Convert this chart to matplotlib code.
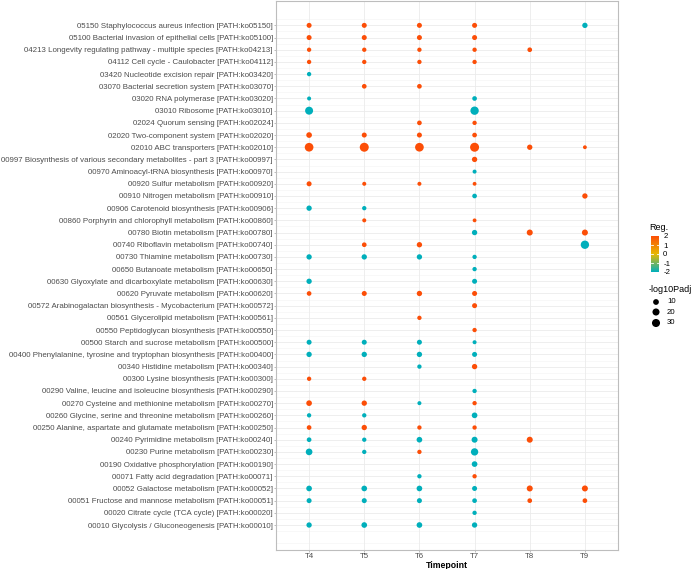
import numpy as np
import pandas as pd
import matplotlib
matplotlib.use('Agg')
import matplotlib.pyplot as plt
from matplotlib.colors import LinearSegmentedColormap, Normalize
from matplotlib.cm import ScalarMappable

plt.rcParams['font.family'] = ['Liberation Sans', 'DejaVu Sans']
plt.rcParams['axes.unicode_minus'] = False

# pathways, top to bottom
pathways = [
    "05150 Staphylococcus aureus infection [PATH:ko05150]",
    "05100 Bacterial invasion of epithelial cells [PATH:ko05100]",
    "04213 Longevity regulating pathway - multiple species [PATH:ko04213]",
    "04112 Cell cycle - Caulobacter [PATH:ko04112]",
    "03420 Nucleotide excision repair [PATH:ko03420]",
    "03070 Bacterial secretion system [PATH:ko03070]",
    "03020 RNA polymerase [PATH:ko03020]",
    "03010 Ribosome [PATH:ko03010]",
    "02024 Quorum sensing [PATH:ko02024]",
    "02020 Two-component system [PATH:ko02020]",
    "02010 ABC transporters [PATH:ko02010]",
    "00997 Biosynthesis of various secondary metabolites - part 3 [PATH:ko00997]",
    "00970 Aminoacyl-tRNA biosynthesis [PATH:ko00970]",
    "00920 Sulfur metabolism [PATH:ko00920]",
    "00910 Nitrogen metabolism [PATH:ko00910]",
    "00906 Carotenoid biosynthesis [PATH:ko00906]",
    "00860 Porphyrin and chlorophyll metabolism [PATH:ko00860]",
    "00780 Biotin metabolism [PATH:ko00780]",
    "00740 Riboflavin metabolism [PATH:ko00740]",
    "00730 Thiamine metabolism [PATH:ko00730]",
    "00650 Butanoate metabolism [PATH:ko00650]",
    "00630 Glyoxylate and dicarboxylate metabolism [PATH:ko00630]",
    "00620 Pyruvate metabolism [PATH:ko00620]",
    "00572 Arabinogalactan biosynthesis - Mycobacterium [PATH:ko00572]",
    "00561 Glycerolipid metabolism [PATH:ko00561]",
    "00550 Peptidoglycan biosynthesis [PATH:ko00550]",
    "00500 Starch and sucrose metabolism [PATH:ko00500]",
    "00400 Phenylalanine, tyrosine and tryptophan biosynthesis [PATH:ko00400]",
    "00340 Histidine metabolism [PATH:ko00340]",
    "00300 Lysine biosynthesis [PATH:ko00300]",
    "00290 Valine, leucine and isoleucine biosynthesis [PATH:ko00290]",
    "00270 Cysteine and methionine metabolism [PATH:ko00270]",
    "00260 Glycine, serine and threonine metabolism [PATH:ko00260]",
    "00250 Alanine, aspartate and glutamate metabolism [PATH:ko00250]",
    "00240 Pyrimidine metabolism [PATH:ko00240]",
    "00230 Purine metabolism [PATH:ko00230]",
    "00190 Oxidative phosphorylation [PATH:ko00190]",
    "00071 Fatty acid degradation [PATH:ko00071]",
    "00052 Galactose metabolism [PATH:ko00052]",
    "00051 Fructose and mannose metabolism [PATH:ko00051]",
    "00020 Citrate cycle (TCA cycle) [PATH:ko00020]",
    "00010 Glycolysis / Gluconeogenesis [PATH:ko00010]",
]
timepoints = ["T4", "T5", "T6", "T7", "T8", "T9"]

# -log10 padj, one row per pathway, columns T4..T9 (0 = not shown)
logp = [
    [5.8, 5.8, 5.8, 5.8, 0, 7.5],
    [5.8, 5.8, 5.8, 5.8, 0, 0],
    [3, 3, 3, 3, 4.3, 0],
    [3, 3, 3, 3, 0, 0],
    [3, 0, 0, 0, 0, 0],
    [0, 4.3, 4.3, 0, 0, 0],
    [2, 0, 0, 4.3, 0, 0],
    [29, 0, 0, 33, 0, 0],
    [0, 0, 4.3, 3, 0, 0],
    [9.4, 5.8, 5.8, 4.3, 0, 0],
    [37, 41, 37, 41, 7.5, 1.5],
    [0, 0, 0, 7.5, 0, 0],
    [0, 0, 0, 2, 0, 0],
    [5.8, 2, 2, 1.5, 0, 0],
    [0, 0, 0, 4.3, 0, 7.5],
    [7.5, 3, 0, 0, 0, 0],
    [0, 2, 0, 1.5, 0, 0],
    [0, 0, 0, 7.5, 11.6, 11.6],
    [0, 4.3, 7.5, 0, 0, 33],
    [7.5, 7.5, 7.5, 3, 0, 0],
    [0, 0, 0, 3, 0, 0],
    [7.5, 0, 0, 5.8, 0, 0],
    [4.3, 5.8, 7.5, 5.8, 0, 0],
    [0, 0, 0, 5.8, 0, 0],
    [0, 0, 3, 0, 0, 0],
    [0, 0, 0, 3, 0, 0],
    [5.8, 5.8, 5.8, 2, 0, 0],
    [7.5, 7.5, 7.5, 5.8, 0, 0],
    [0, 0, 3, 7.5, 0, 0],
    [3, 3, 0, 0, 0, 0],
    [0, 0, 0, 3, 0, 0],
    [9.4, 7.5, 2, 3, 0, 0],
    [3, 3, 0, 9.4, 0, 0],
    [4.3, 7.5, 3, 3, 0, 0],
    [4.3, 3, 9.4, 11.6, 11.6, 0],
    [16.5, 3, 3, 22.4, 0, 0],
    [0, 0, 0, 9.4, 0, 0],
    [0, 0, 3, 3, 0, 0],
    [9.4, 9.4, 9.4, 5.8, 11.6, 11.6],
    [5.8, 5.8, 5.8, 4.3, 4.3, 4.3],
    [0, 0, 0, 3, 0, 0],
    [7.5, 9.4, 9.4, 7.5, 0, 0],
]

# regulation, same layout (2 = up, -2 = down)
reg = [
    [2, 2, 2, 2, 0, -2],
    [2, 2, 2, 2, 0, 0],
    [2, 2, 2, 2, 2, 0],
    [2, 2, 2, 2, 0, 0],
    [-2, 0, 0, 0, 0, 0],
    [0, 2, 2, 0, 0, 0],
    [-2, 0, 0, -2, 0, 0],
    [-2, 0, 0, -2, 0, 0],
    [0, 0, 2, 2, 0, 0],
    [2, 2, 2, 2, 0, 0],
    [2, 2, 2, 2, 2, 2],
    [0, 0, 0, 2, 0, 0],
    [0, 0, 0, -2, 0, 0],
    [2, 2, 2, 2, 0, 0],
    [0, 0, 0, -2, 0, 2],
    [-2, -2, 0, 0, 0, 0],
    [0, 2, 0, 2, 0, 0],
    [0, 0, 0, -2, 2, 2],
    [0, 2, 2, 0, 0, -2],
    [-2, -2, -2, -2, 0, 0],
    [0, 0, 0, -2, 0, 0],
    [-2, 0, 0, -2, 0, 0],
    [2, 2, 2, 2, 0, 0],
    [0, 0, 0, 2, 0, 0],
    [0, 0, 2, 0, 0, 0],
    [0, 0, 0, 2, 0, 0],
    [-2, -2, -2, -2, 0, 0],
    [-2, -2, -2, -2, 0, 0],
    [0, 0, -2, 2, 0, 0],
    [2, 2, 0, 0, 0, 0],
    [0, 0, 0, -2, 0, 0],
    [2, 2, -2, 2, 0, 0],
    [-2, -2, 0, -2, 0, 0],
    [2, 2, 2, 2, 0, 0],
    [-2, -2, -2, -2, 2, 0],
    [-2, -2, 2, -2, 0, 0],
    [0, 0, 0, -2, 0, 0],
    [0, 0, -2, 2, 0, 0],
    [-2, -2, -2, -2, 2, 2],
    [-2, -2, -2, -2, 2, 2],
    [0, 0, 0, -2, 0, 0],
    [-2, -2, -2, -2, 0, 0],
]

size_breaks = [10, 20, 30]

# long format
rows = []
n = len(pathways)
for i, p in enumerate(pathways):
    for j, t in enumerate(timepoints):
        if logp[i][j] > 0:
            rows.append({'pathway': p, 'y': n - i, 'x': j, 'logp': logp[i][j], 'reg': reg[i][j]})
df = pd.DataFrame(rows)

DPI = 100
def msize(v):
    # marker area (pt^2) from -log10Padj
    d_px = 2.6 + np.sqrt(np.asarray(v, dtype=float))
    return (d_px * 72 / DPI) ** 2

cmap = LinearSegmentedColormap.from_list('reg', ["#00AFBB", "#E7B800", "#FC4E07"])
norm = Normalize(vmin=-2, vmax=2)

fig = plt.figure(figsize=(7.0, 5.69), dpi=DPI)
ax = fig.add_axes([276 / 700, 19 / 569, 342 / 700, 549 / 569])

# grid
for k in range(1, n + 1):
    ax.axhline(k, color='#EBEBEB', lw=0.6, zorder=0)
for k in np.arange(-0.5, n + 1.5, 1.0):
    ax.axhline(k, color='#F3F3F3', lw=0.4, zorder=0)
for k in range(len(timepoints)):
    ax.axvline(k, color='#EBEBEB', lw=0.6, zorder=0)

ax.scatter(df['x'], df['y'], s=msize(df['logp']), c=df['reg'], cmap=cmap, norm=norm,
           linewidths=0, zorder=3)

ax.set_xlim(-0.6, len(timepoints) - 0.4)
ax.set_ylim(-1.05, n + 2.0)
ax.set_xticks(range(len(timepoints)))
ax.set_xticklabels(timepoints)
ax.set_yticks(range(n, 0, -1))
ax.set_yticklabels(pathways)
ax.tick_params(axis='both', colors='#B3B3B3', length=1.5, width=0.6, labelsize=5.65,
               labelcolor='#4D4D4D', pad=0.8)
for s in ax.spines.values():
    s.set_color('#BDBDBD')
    s.set_linewidth(0.8)
ax.set_xlabel('Timepoint', fontsize=6.3, fontweight='bold', labelpad=0.5)

# colour legend
fig.text(649 / 700, 1 - 227 / 569, 'Reg.', fontsize=6.5, va='center', ha='left')
cax = fig.add_axes([651 / 700, 1 - 272 / 569, 8 / 700, 36 / 569])
cb = fig.colorbar(ScalarMappable(norm=norm, cmap=cmap), cax=cax, ticks=[-2, -1, 0, 1, 2])
cb.outline.set_visible(False)
cb.ax.tick_params(labelsize=5.6, length=0, pad=3)
for t in [-1, 0, 1]:
    cax.axhline(t, color='white', lw=0.6, xmin=0, xmax=0.2)
    cax.axhline(t, color='white', lw=0.6, xmin=0.8, xmax=1)

# size legend
fig.text(649 / 700, 1 - 290 / 569, '-log10Padj', fontsize=6.5, va='center', ha='left')
for b, yy in zip(size_breaks, [302, 312, 323]):
    fig.text(667 / 700, 1 - yy / 569, str(b), fontsize=5.6, va='center', ha='left')
lax = fig.add_axes([648 / 700, 1 - 330 / 569, 20 / 700, 35 / 569])
lax.set_xlim(0, 20)
lax.set_ylim(330, 295)
lax.scatter([8] * 3, [302, 312, 323], s=msize(size_breaks), c='black', linewidths=0)
lax.axis('off')

fig.savefig('out.png', dpi=DPI)
